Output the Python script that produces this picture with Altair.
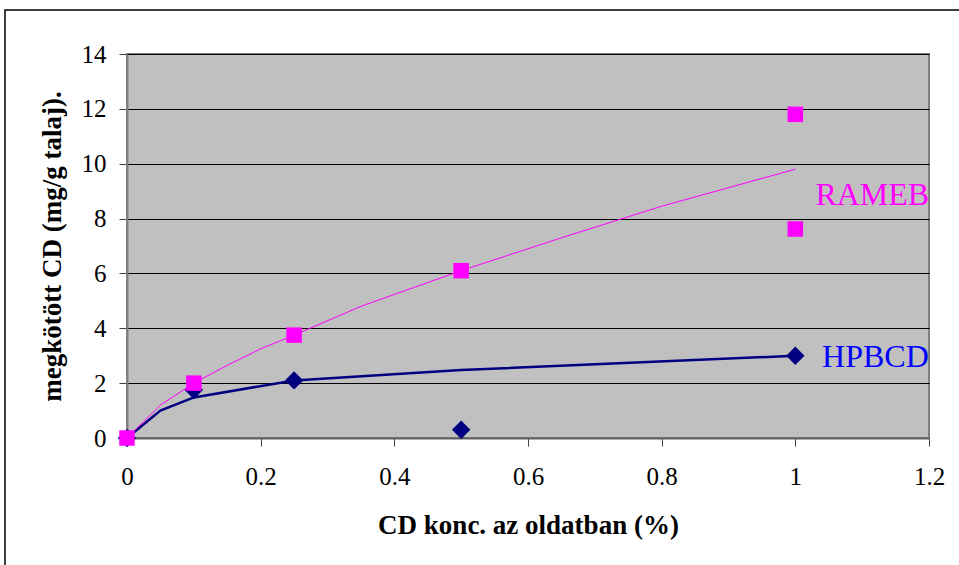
import altair as alt
import pandas as pd

# measured points
hp_x = [0, 0.1, 0.25, 0.5, 1.0]
hp_y = [0, 1.75, 2.1, 0.3, 3.0]
ram_x = [0, 0.1, 0.25, 0.5, 1.0, 1.0]
ram_y = [0, 2.0, 3.75, 6.1, 11.8, 7.62]

# trend lines
hp_fit_x = [0, 0.05, 0.1, 0.25, 0.5, 1.0]
hp_fit_y = [0, 1.0, 1.48, 2.1, 2.48, 3.0]
ram_fit_x = [0, 0.05, 0.1, 0.15, 0.2, 0.25, 0.35, 0.5, 0.65, 0.8, 1.0]
ram_fit_y = [0, 1.2, 2.0, 2.65, 3.25, 3.75, 4.8, 6.1, 7.3, 8.45, 9.8]

# series labels
lab_text = ["RAMEB", "HPBCD"]
lab_x = [1.03, 1.04]
lab_y = [8.85, 2.95]
lab_col = ["#FF00FF", "#0000FF"]

x_ticks = [0, 0.2, 0.4, 0.6, 0.8, 1, 1.2]
y_ticks = [0, 2, 4, 6, 8, 10, 12, 14]

FONT = "Liberation Serif"

hp = pd.DataFrame({"x": hp_x, "y": hp_y})
ram = pd.DataFrame({"x": ram_x, "y": ram_y})
hpf = pd.DataFrame({"x": hp_fit_x, "y": hp_fit_y})
ramf = pd.DataFrame({"x": ram_fit_x, "y": ram_fit_y})
labs = pd.DataFrame({"t": lab_text, "x": lab_x, "y": lab_y, "c": lab_col})

xs = alt.Scale(domain=[0, 1.2], nice=False)
ys = alt.Scale(domain=[0, 14], nice=False)

x_axis = alt.Axis(values=x_ticks, grid=False, title="CD konc. az oldatban (%)",
                  format="~g",
                  labelFont=FONT, labelFontSize=25, labelColor="black",
                  labelPadding=18, tickSize=8, tickColor="#404040",
                  domainColor="#606060", domainWidth=2,
                  titleFont=FONT, titleFontSize=27, titleFontWeight="bold",
                  titleColor="black", titleY=87, titleBaseline="middle",
                  labelFlush=False, labelOverlap=False)
y_axis = alt.Axis(values=y_ticks, grid=True, gridColor="#000000", gridWidth=1,
                  title="megkötött CD (mg/g talaj).",
                  labelFont=FONT, labelFontSize=25, labelColor="black",
                  labelPadding=13, tickSize=8, tickColor="#404040",
                  domainColor="#808080", domainWidth=2,
                  titleFont=FONT, titleFontSize=27, titleFontWeight="bold",
                  titleColor="black", titleX=-75, titleY=192, titleAngle=-90,
                  titleBaseline="middle", titleAlign="center",
                  labelFlush=False, labelOverlap=False)

X = alt.X("x:Q", scale=xs, axis=x_axis)
Y = alt.Y("y:Q", scale=ys, axis=y_axis)

frame = alt.Chart(pd.DataFrame({"a": [0]})).mark_rect(
    fill=None, stroke="black", strokeWidth=1.5
).encode(x=alt.value(-122), x2=alt.value(850), y=alt.value(-44), y2=alt.value(530))

hp_line = alt.Chart(hpf).mark_line(color="#000080", strokeWidth=2.5).encode(x=X, y=Y)
ram_line = alt.Chart(ramf).mark_line(color="#FF00FF", strokeWidth=1).encode(x=X, y=Y)
hp_pts = alt.Chart(hp).mark_point(shape="diamond", filled=True, color="#000080",
                                  size=340, opacity=1).encode(x=X, y=Y)
ram_pts = alt.Chart(ram).mark_point(shape="square", filled=True, color="#FF00FF",
                                    size=240, opacity=1).encode(x=X, y=Y)
labels = alt.Chart(labs).mark_text(font=FONT, fontSize=32, align="left",
                                   baseline="middle").encode(
    x=X, y=Y, text="t:N", color=alt.Color("c:N", scale=None),
)

chart = alt.layer(hp_line, ram_line, hp_pts, ram_pts, labels, frame).properties(
    width=802, height=384,
    autosize=alt.AutoSizeParams(type="none"),
    padding={"left": 127, "top": 54, "right": 30, "bottom": 127},
    background="white",
).configure_view(
    fill="#C0C0C0", stroke="#808080", strokeWidth=2
)

chart.save("out.html", embed_options={"renderer": "svg", "actions": False})
